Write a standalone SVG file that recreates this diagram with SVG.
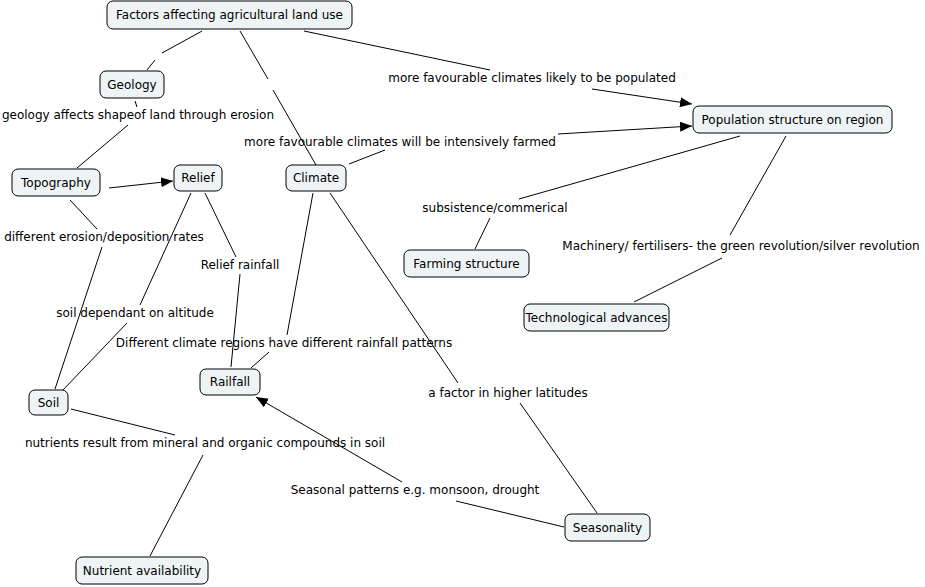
<svg xmlns="http://www.w3.org/2000/svg" width="925" height="587" viewBox="0 0 925 587">
<defs>
<marker id="arr" viewBox="0 0 12 10" refX="12" refY="5" markerWidth="12" markerHeight="10" markerUnits="userSpaceOnUse" orient="auto">
<path d="M0,0 L12,5 L0,10 Z" fill="#000"/>
</marker>
<style>
text{font-family:"DejaVu Sans",Verdana,sans-serif;font-size:12px;fill:#000;text-anchor:middle}
.n rect{fill:#eef3f5;stroke:#000;stroke-width:1}
#edges line{stroke:#000;stroke-width:1;fill:none}
</style>
</defs>
<rect width="925" height="587" fill="#fff"/>
<g id="edges">
<line x1="202" y1="31" x2="162" y2="53"/>
<line x1="155" y1="60" x2="147" y2="70"/>
<line x1="240" y1="31" x2="268" y2="79"/>
<line x1="273" y1="90" x2="316" y2="165"/>
<line x1="304" y1="31" x2="490" y2="70"/>
<line x1="592" y1="89" x2="692" y2="104" marker-end="url(#arr)"/>
<line x1="135" y1="101" x2="137" y2="107"/>
<line x1="128" y1="125" x2="77" y2="168"/>
<line x1="109" y1="188" x2="173" y2="181" marker-end="url(#arr)"/>
<line x1="70" y1="200" x2="97" y2="229"/>
<line x1="102" y1="247" x2="55" y2="389"/>
<line x1="191" y1="193" x2="140" y2="305"/>
<line x1="127" y1="323" x2="63" y2="390"/>
<line x1="205" y1="193" x2="236" y2="257"/>
<line x1="240" y1="274" x2="231" y2="367"/>
<line x1="313" y1="193" x2="287" y2="335"/>
<line x1="269" y1="352" x2="251" y2="368"/>
<line x1="330" y1="193" x2="458" y2="383"/>
<line x1="520" y1="403" x2="597" y2="513"/>
<line x1="349" y1="164" x2="385" y2="150"/>
<line x1="558" y1="134" x2="692" y2="126" marker-end="url(#arr)"/>
<line x1="740" y1="136" x2="519" y2="199"/>
<line x1="490" y1="218" x2="475" y2="249"/>
<line x1="786" y1="136" x2="730" y2="235"/>
<line x1="722" y1="258" x2="634" y2="302"/>
<line x1="71" y1="409" x2="175" y2="435"/>
<line x1="203" y1="455" x2="150" y2="556"/>
<line x1="564" y1="527" x2="456" y2="501"/>
<line x1="402" y1="482" x2="256" y2="397" marker-end="url(#arr)"/>
</g>
<g id="labels">
<text x="138" y="119">geology affects shapeof land through erosion</text>
<text x="532" y="82">more favourable climates likely to be populated</text>
<text x="400" y="146">more favourable climates will be intensively farmed</text>
<text x="104" y="241">different erosion/deposition rates</text>
<text x="240" y="269">Relief rainfall</text>
<text x="495" y="212">subsistence/commerical</text>
<text x="741" y="250">Machinery/ fertilisers- the green revolution/silver revolution</text>
<text x="135" y="317">soil dependant on altitude</text>
<text x="284" y="347">Different climate regions have different rainfall patterns</text>
<text x="508" y="397">a factor in higher latitudes</text>
<text x="205" y="447">nutrients result from mineral and organic compounds in soil</text>
<text x="415" y="494">Seasonal patterns e.g. monsoon, drought</text>
</g>
<g id="n-factors" class="n"><rect x="107" y="1" width="245" height="28" rx="6"/><text x="229.5" y="19">Factors affecting agricultural land use</text></g>
<g id="n-geology" class="n"><rect x="100" y="71" width="64" height="27" rx="6"/><text x="132" y="89">Geology</text></g>
<g id="n-topography" class="n"><rect x="12" y="169" width="88" height="27" rx="6"/><text x="56" y="187">Topography</text></g>
<g id="n-relief" class="n"><rect x="174" y="165" width="48" height="26" rx="6"/><text x="198" y="182">Relief</text></g>
<g id="n-climate" class="n"><rect x="286" y="165" width="60" height="26" rx="6"/><text x="316" y="182">Climate</text></g>
<g id="n-population" class="n"><rect x="693" y="106" width="199" height="27" rx="6"/><text x="792.5" y="124">Population structure on region</text></g>
<g id="n-farming" class="n"><rect x="404" y="250" width="125" height="27" rx="6"/><text x="466.5" y="268">Farming structure</text></g>
<g id="n-tech" class="n"><rect x="524" y="304" width="145" height="27" rx="6"/><text x="596.5" y="322">Technological advances</text></g>
<g id="n-soil" class="n"><rect x="29" y="390" width="39" height="25" rx="6"/><text x="48.5" y="407">Soil</text></g>
<g id="n-railfall" class="n"><rect x="200" y="369" width="60" height="26" rx="6"/><text x="230" y="386">Railfall</text></g>
<g id="n-seasonality" class="n"><rect x="565" y="514" width="85" height="27" rx="6"/><text x="607.5" y="532">Seasonality</text></g>
<g id="n-nutrient" class="n"><rect x="76" y="557" width="132" height="27" rx="6"/><text x="142" y="575">Nutrient availability</text></g>
</svg>
